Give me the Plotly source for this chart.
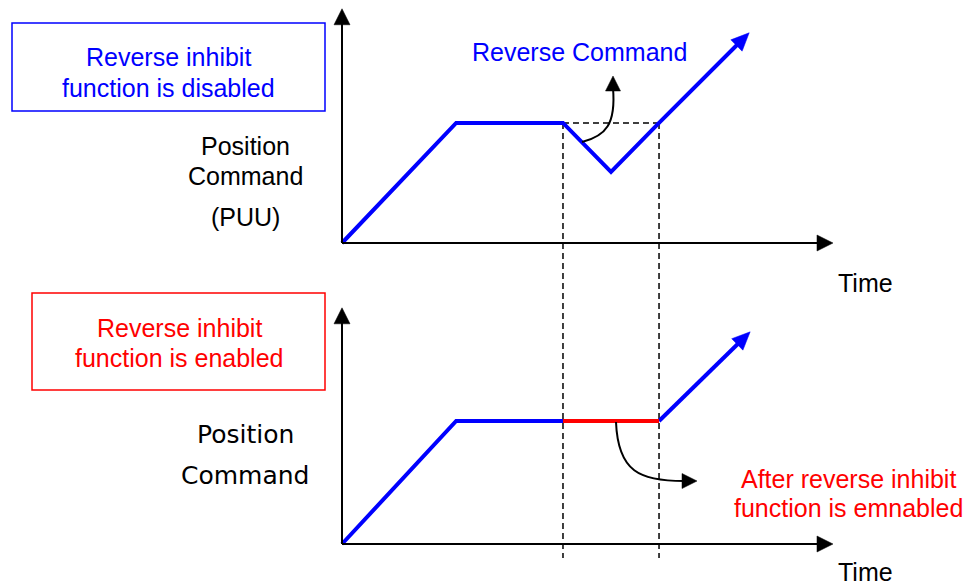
import plotly.graph_objects as go

# figure is 976 x 587 px, one time unit / one position unit = 49 px
W, H = 976, 587
S = 49.0
OX = 342            # x pixel of time 0
OY_TOP = 243        # y pixel of position 0, upper panel
OY_BOT = 544        # y pixel of position 0, lower panel

# upper panel: reverse inhibit disabled
t_top = [0, 2.33, 4.51, 5.49, 6.47, 8.31]
p_top = [0, 2.45, 2.45, 1.45, 2.45, 4.29]

# lower panel: reverse inhibit enabled
t_bot = [0, 2.33, 4.51]
p_bot = [0, 2.51, 2.51]
t_hold = [4.51, 6.47]
p_hold = [2.51, 2.51]
t_after = [6.47, 8.33]
p_after = [2.51, 4.33]

t_axis_end = 10.02
p_axis_top = 4.78
p_axis_bot = 4.82

BLUE = "#0000ff"
RED = "#ff0000"
FONT = "Arial, Liberation Sans, sans-serif"


def arrow_head(tip, prev, length, half, xref, yref, color):
    # filled triangle pointing from prev towards tip (equal x/y scale)
    dx, dy = tip[0] - prev[0], tip[1] - prev[1]
    n = (dx ** 2 + dy ** 2) ** 0.5
    dx, dy = dx / n, dy / n
    L, w = length / S, half / S
    bx, by = tip[0] - L * dx, tip[1] - L * dy
    path = (f"M {tip[0]},{tip[1]} L {bx - w * dy},{by + w * dx} "
            f"L {bx + w * dy},{by - w * dx} Z")
    return dict(type="path", path=path, xref=xref, yref=yref,
                fillcolor=color, line=dict(color=color, width=0.5), layer="above")


def shorten(t, p, px):
    # pull the last point back so the head covers the line end
    dx, dy = t[-1] - t[-2], p[-1] - p[-2]
    n = (dx ** 2 + dy ** 2) ** 0.5
    return t[:-1] + [t[-1] - px / S * dx / n], p[:-1] + [p[-1] - px / S * dy / n]


fig = go.Figure()

tt, pp = shorten(t_top, p_top, 12)
fig.add_trace(go.Scatter(x=tt, y=pp, mode="lines", yaxis="y",
                         line=dict(color=BLUE, width=4), hoverinfo="skip"))
fig.add_trace(go.Scatter(x=t_bot, y=p_bot, mode="lines", yaxis="y2",
                         line=dict(color=BLUE, width=4), hoverinfo="skip"))
ta, pa = shorten(t_after, p_after, 12)
fig.add_trace(go.Scatter(x=ta, y=pa, mode="lines", yaxis="y2",
                         line=dict(color=BLUE, width=4), hoverinfo="skip"))
fig.add_trace(go.Scatter(x=t_hold, y=p_hold, mode="lines", yaxis="y2",
                         line=dict(color=RED, width=4), hoverinfo="skip"))

shapes = []
# axes
for yref, ptop in (("y", p_axis_top), ("y2", p_axis_bot)):
    shapes.append(dict(type="line", xref="x", yref=yref, x0=0, y0=0,
                       x1=t_axis_end - 0.2, y1=0, line=dict(color="black", width=2)))
    shapes.append(dict(type="line", xref="x", yref=yref, x0=0, y0=0,
                       x1=0, y1=ptop - 0.2, line=dict(color="black", width=2)))
    shapes.append(arrow_head((t_axis_end, 0), (0, 0), 16, 8, "x", yref, "black"))
    shapes.append(arrow_head((0, ptop), (0, 0), 16, 8, "x", yref, "black"))

# blue arrow heads
shapes.append(arrow_head((t_top[-1], p_top[-1]), (t_top[-2], p_top[-2]), 18, 8, "x", "y", BLUE))
shapes.append(arrow_head((t_after[-1], p_after[-1]), (t_after[-2], p_after[-2]), 18, 8, "x", "y2", BLUE))

# dashed guides
dash = dict(color="black", width=1.5, dash="6px,4px")
shapes.append(dict(type="line", xref="x", yref="y", x0=t_top[2], x1=t_top[4],
                   y0=p_top[2], y1=p_top[2], line=dash, layer="below"))
low = (OY_TOP - 558) / S
for tx in (t_top[2], t_top[4]):
    shapes.append(dict(type="line", xref="x", yref="y", x0=tx, x1=tx,
                       y0=p_top[2], y1=low, line=dash, layer="below"))


def d(px, py, oy):
    return f"{(px - OX) / S},{(oy - py) / S}"


# curved pointer to "Reverse Command"
shapes.append(dict(type="path", xref="x", yref="y", layer="above",
                   path=f"M {d(582, 142, OY_TOP)} C {d(606, 136, OY_TOP)} {d(616, 124, OY_TOP)} {d(613, 88, OY_TOP)}",
                   line=dict(color="black", width=2)))
shapes.append(arrow_head(((613 - OX) / S, (OY_TOP - 76) / S),
                         ((613 - OX) / S, (OY_TOP - 100) / S), 15, 7.5, "x", "y", "black"))

# curved pointer to the red note
shapes.append(dict(type="path", xref="x", yref="y2", layer="above",
                   path=f"M {d(616, 422, OY_BOT)} C {d(618, 472, OY_BOT)} {d(640, 481, OY_BOT)} {d(684, 481, OY_BOT)}",
                   line=dict(color="black", width=2)))
shapes.append(arrow_head(((697 - OX) / S, (OY_BOT - 481) / S),
                         ((670 - OX) / S, (OY_BOT - 481) / S), 15, 7.5, "x", "y2", "black"))

# label boxes
shapes.append(dict(type="rect", xref="paper", yref="paper",
                   x0=12 / W, x1=325 / W, y0=1 - 111 / H, y1=1 - 23 / H,
                   line=dict(color=BLUE, width=1.5)))
shapes.append(dict(type="rect", xref="paper", yref="paper",
                   x0=32 / W, x1=325 / W, y0=1 - 390 / H, y1=1 - 293 / H,
                   line=dict(color=RED, width=1.5)))


def note(text, px, py, color="black", size=25, family=FONT):
    return dict(text=text, x=px / W, y=1 - py / H, xref="paper", yref="paper",
                showarrow=False, xanchor="center", yanchor="middle",
                font=dict(family=family, size=size, color=color))


VFONT = "DejaVu Sans, Verdana, sans-serif"
annotations = [
    note("Reverse inhibit", 168, 57, BLUE),
    note("function is disabled", 168, 88, BLUE),
    note("Position", 246, 146),
    note("Command", 246, 176),
    note("(PUU)", 246, 217),
    note("Reverse Command", 579, 52, BLUE),
    note("Time", 865, 283),
    note("Reverse inhibit", 179, 328, RED),
    note("function is enabled", 179, 358, RED),
    note("Position", 246, 434, size=25, family=VFONT),
    note("Command", 246, 475, size=25, family=VFONT),
    note("After reverse inhibit", 848, 479, RED),
    note("function is emnabled", 848, 508, RED),
    note("Time", 865, 572),
]

fig.update_layout(
    width=W, height=H,
    margin=dict(l=0, r=0, t=0, b=0),
    paper_bgcolor="white", plot_bgcolor="white",
    showlegend=False,
    xaxis=dict(range=[-OX / S, (W - OX) / S], visible=False, fixedrange=True),
    yaxis=dict(range=[(OY_TOP - H) / S, OY_TOP / S], visible=False, fixedrange=True),
    yaxis2=dict(range=[(OY_BOT - H) / S, OY_BOT / S], visible=False,
                overlaying="y", fixedrange=True),
    shapes=shapes,
    annotations=annotations,
)

fig.write_html("out.html", config={"displayModeBar": False},
               post_script="document.body.style.margin='0';document.body.style.overflow='hidden';")
